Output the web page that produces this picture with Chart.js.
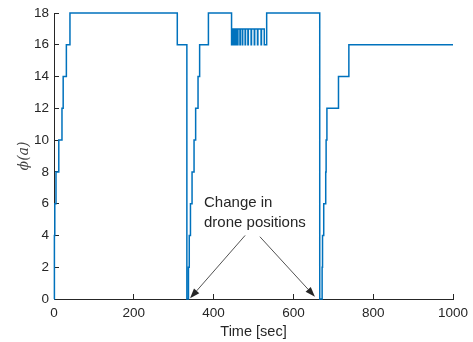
<!DOCTYPE html>
<html>
<head>
<meta charset="utf-8">
<script src="https://cdn.jsdelivr.net/npm/chart.js@4/dist/chart.umd.min.js"></script>
<style>
  body { margin: 0; background: #fff; }
  #wrap { width: 473px; height: 342px; }
</style>
</head>
<body>
<div id="wrap"><canvas id="myChart" width="473" height="342"></canvas></div>
<script>
// time [sec] at which phi(a) changes, and the value it takes from then on
const times = [0, 1, 2, 5, 12, 20, 23, 31, 40,
  309, 333, 337, 339, 342, 346, 351, 355, 361, 365, 387,
  445, 447, 450, 451, 453, 454, 456, 457, 460, 461, 466, 467, 472, 473,
  479, 480, 486, 487, 494, 495, 502, 503, 510, 511, 519, 520, 527, 533,
  666, 672, 673, 676, 681, 682, 684, 713, 739, 1000];
const phiValues = [0, 4, 6, 8, 10, 12, 14, 16, 18,
  16, 0, 2, 4, 6, 8, 10, 12, 14, 16, 18,
  16, 17, 16, 17, 16, 17, 16, 17, 16, 17, 16, 17, 16, 17,
  16, 17, 16, 17, 16, 17, 16, 17, 16, 17, 16, 17, 16, 18,
  0, 2, 4, 6, 8, 10, 12, 14, 16, 16];

const xTicks = [0, 200, 400, 600, 800, 1000];
const yTicks = [0, 2, 4, 6, 8, 10, 12, 14, 16, 18];

// annotation, in data units
const noteLines = ["Change in", "drone positions"];
const noteX = 376;
const noteY = [6.04, 4.78];
const arrowFrom = [[479, 4.0], [516, 3.92]];
const arrowTo = [[341, 0.04], [654, 0.14]];

const axisColor = "#262626";
const points = times.map((t, i) => ({ x: t, y: phiValues[i] }));

const notePlugin = {
  id: "note",
  afterDraw(chart) {
    const ctx = chart.ctx;
    const xs = chart.scales.x;
    const ys = chart.scales.y;
    ctx.save();
    ctx.fillStyle = axisColor;
    ctx.strokeStyle = axisColor;
    ctx.font = "15px 'Liberation Sans', Arial, sans-serif";
    ctx.textAlign = "left";
    ctx.textBaseline = "middle";
    noteLines.forEach((txt, i) => {
      ctx.fillText(txt, xs.getPixelForValue(noteX), ys.getPixelForValue(noteY[i]));
    });
    ctx.lineWidth = 0.8;
    arrowFrom.forEach((a, i) => {
      const x1 = xs.getPixelForValue(a[0]), y1 = ys.getPixelForValue(a[1]);
      const x2 = xs.getPixelForValue(arrowTo[i][0]), y2 = ys.getPixelForValue(arrowTo[i][1]);
      const ang = Math.atan2(y2 - y1, x2 - x1);
      const len = 10, half = 3.5;
      const bx = x2 - len * Math.cos(ang), by = y2 - len * Math.sin(ang);
      ctx.beginPath();
      ctx.moveTo(x1, y1);
      ctx.lineTo(bx, by);
      ctx.stroke();
      ctx.beginPath();
      ctx.moveTo(x2, y2);
      ctx.lineTo(bx + half * Math.sin(ang), by - half * Math.cos(ang));
      ctx.lineTo(bx - half * Math.sin(ang), by + half * Math.cos(ang));
      ctx.closePath();
      ctx.fill();
    });
    ctx.restore();
  }
};

new Chart("myChart", {
  type: "line",
  data: {
    datasets: [{
      label: "phi",
      data: points,
      stepped: "before",
      borderColor: "#0072BD",
      backgroundColor: "#0072BD",
      borderWidth: 1.5,
      pointRadius: 0,
      fill: false,
      clip: false
    }]
  },
  options: {
    responsive: false,
    animation: false,
    devicePixelRatio: 1,
    layout: { padding: { top: 13, right: 20, left: 0, bottom: 0 } },
    plugins: { legend: { display: false }, tooltip: { enabled: false } },
    scales: {
      x: {
        type: "linear",
        min: 0,
        max: 1000,
        afterBuildTicks: s => { s.ticks = xTicks.map(v => ({ value: v })); },
        afterFit: s => { s.height = 43; s.paddingLeft = 0; s.paddingRight = 0; },
        ticks: {
          color: axisColor,
          padding: 11,
          maxRotation: 0,
          callback: v => String(v),
          font: { family: "'Liberation Sans', Arial, sans-serif", size: 13.5 }
        },
        grid: { drawOnChartArea: false, tickLength: -5, color: axisColor },
        border: { color: axisColor, width: 1 },
        title: {
          display: true,
          text: "Time [sec]",
          color: axisColor,
          padding: { top: 0, bottom: 1 },
          font: { family: "'Liberation Sans', Arial, sans-serif", size: 14.5 }
        }
      },
      y: {
        min: 0,
        max: 18,
        afterBuildTicks: s => { s.ticks = yTicks.map(v => ({ value: v })); },
        afterFit: s => { s.width = 54; s.paddingTop = 0; s.paddingBottom = 0; },
        ticks: {
          color: axisColor,
          padding: 10,
          font: { family: "'Liberation Sans', Arial, sans-serif", size: 13.5 }
        },
        grid: { drawOnChartArea: false, tickLength: -5, color: axisColor },
        border: { color: axisColor, width: 1 },
        title: {
          display: true,
          text: "ϕ(a)",
          color: "#444",
          padding: { top: 16, bottom: 0 },
          font: { family: "'DejaVu Serif', serif", size: 14, style: "italic" }
        }
      }
    }
  },
  plugins: [notePlugin]
});
</script>
</body>
</html>
